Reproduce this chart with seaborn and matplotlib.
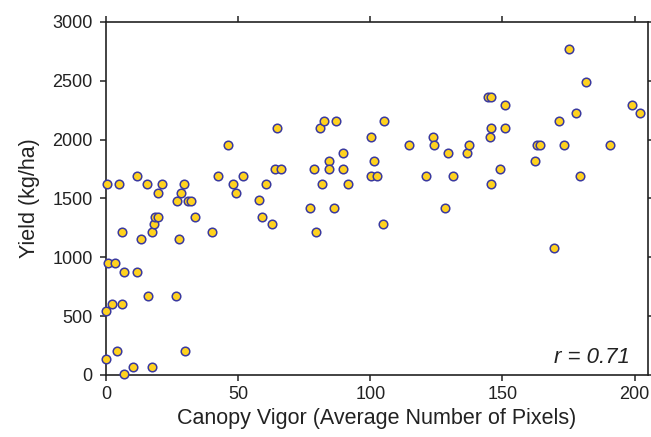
import numpy as np
import pandas as pd
import matplotlib
matplotlib.use("Agg")
import matplotlib.pyplot as plt
import seaborn as sns

# Canopy vigor (average number of pixels) vs yield (kg/ha)
vigor = [0.1, 0.1, 0.5, 0.8, 2.4, 3.4, 4.0, 4.9, 5.9, 5.9, 6.9, 6.9, 10.2, 11.7,
         11.7, 13.1, 15.4, 15.8, 17.4, 17.5, 18.2, 18.5, 19.7, 19.8, 21.1, 26.6,
         26.7, 27.6, 28.3, 29.5, 29.9, 31.0, 32.0, 33.5, 40.0, 42.5, 46.0, 47.9,
         49.2, 51.8, 58.0, 59.1, 60.5, 62.7, 63.8, 64.6, 66.3, 77.2, 78.7, 79.5,
         81.1, 81.6, 82.6, 84.4, 84.4, 86.3, 87.0, 89.5, 89.8, 91.7, 100.4, 100.4,
         101.4, 102.5, 104.9, 105.3, 114.5, 121.0, 123.8, 124.2, 128.1, 129.3,
         131.4, 136.5, 137.3, 144.4, 145.2, 145.5, 145.7, 145.8, 149.1, 151.1,
         151.1, 162.2, 163.2, 164.4, 169.4, 171.3, 173.4, 175.2, 178.0, 179.2,
         181.6, 190.7, 199.0, 201.9]
yield_kg = [136, 544, 1623, 949, 606, 949, 201, 1623, 606, 1215, 875, 6, 71, 1688,
            875, 1153, 1623, 671, 1215, 71, 1280, 1345, 1549, 1345, 1623, 671,
            1481, 1153, 1549, 1623, 201, 1481, 1481, 1345, 1215, 1688, 1955, 1623,
            1549, 1688, 1484, 1345, 1623, 1283, 1751, 2094, 1751, 1419, 1751, 1218,
            2094, 1623, 2159, 1819, 1751, 1419, 2159, 1751, 1889, 1623, 2020, 1688,
            1816, 1688, 1283, 2159, 1955, 1688, 2020, 1955, 1419, 1889,
            1688, 1889, 1955, 2363, 2020, 1623, 2363, 2094, 1751, 2297,
            2094, 1816, 1955, 1955, 1079, 2159, 1955, 2768, 2224, 1688,
            2493, 1955, 2297, 2224]

x_ticks = [0, 50, 100, 150, 200]
y_ticks = [0, 500, 1000, 1500, 2000, 2500, 3000]
r_label = "r = 0.71"

df = pd.DataFrame({"vigor": vigor, "yield": yield_kg})

sns.set_style("ticks")
plt.rcParams["font.family"] = ["Liberation Sans", "DejaVu Sans"]

fig = plt.figure(figsize=(6.51, 4.37), dpi=100)
ax = fig.add_axes([0.163, 0.142, 0.832, 0.808])

sns.scatterplot(data=df, x="vigor", y="yield", ax=ax, s=38,
                color="#FFD21F", edgecolor="#3B3A9E", linewidth=1.1,
                clip_on=False, zorder=3)

ax.set_xlim(0, 205)
ax.set_ylim(0, 3000)
ax.set_xticks(x_ticks)
ax.set_yticks(y_ticks)
ax.tick_params(axis="both", which="both", direction="out", length=4.3,
               width=1.1, color="#222222", labelsize=13, labelcolor="#222222",
               top=True, right=True)
ax.tick_params(axis="y", pad=5.5)
ax.tick_params(axis="x", pad=4)

for side in ["top", "right", "bottom", "left"]:
    ax.spines[side].set_visible(True)
    ax.spines[side].set_linewidth(1.2)
    ax.spines[side].set_color("#222222")

ax.set_xlabel("Canopy Vigor (Average Number of Pixels)", fontsize=15.5,
              color="#222222", labelpad=3)
ax.set_ylabel("Yield (kg/ha)", fontsize=15.5, color="#222222", labelpad=9)

ax.text(0.967, 0.034, r_label, transform=ax.transAxes, ha="right",
        va="baseline", fontsize=16, style="italic", color="#222222")

fig.savefig("out.png", dpi=100)
